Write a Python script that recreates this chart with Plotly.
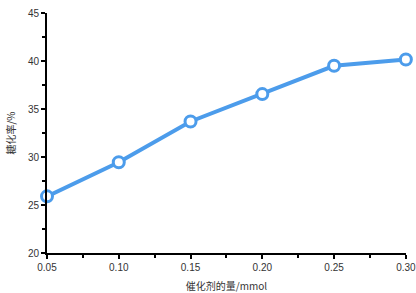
import plotly.graph_objects as go

catalyst = [0.05, 0.10, 0.15, 0.20, 0.25, 0.30]
conversion = [25.9, 29.45, 33.7, 36.55, 39.5, 40.15]
x_ticks = [0.05, 0.10, 0.15, 0.20, 0.25, 0.30]
x_tick_labels = ["0.05", "0.10", "0.15", "0.20", "0.25", "0.30"]
y_ticks = [20, 25, 30, 35, 40, 45]

blue = "#4C9CEB"
font_main = "Liberation Sans, Noto Sans CJK SC, sans-serif"

fig = go.Figure(go.Scatter(
    x=catalyst, y=conversion, mode="lines+markers",
    line=dict(color=blue, width=4),
    marker=dict(size=11, color="white", line=dict(color=blue, width=3)),
    cliponaxis=False,
))

fig.update_layout(
    width=416, height=293,
    margin=dict(l=47, r=10, t=13, b=40),
    paper_bgcolor="white", plot_bgcolor="white",
    showlegend=False,
    font=dict(family=font_main, size=10, color="#333333"),
)
fig.update_xaxes(
    range=[0.05, 0.3001], tickvals=x_ticks, ticktext=x_tick_labels,
    automargin=False, ticklabeloverflow="allow",
    showgrid=False, zeroline=False,
    showline=True, linecolor="black", linewidth=2,
    ticks="outside", ticklen=4, tickwidth=1.5, tickcolor="black",
    minor=dict(dtick=0.025, tick0=0.05, ticks="outside", ticklen=3, tickwidth=1.5, tickcolor="black", showgrid=False),
    title=dict(text="催化剂的量/mmol", font=dict(family="Noto Sans CJK SC, sans-serif", size=10, color="#333333"), standoff=14),
    tickfont=dict(size=10, color="#333333"),
)
fig.update_yaxes(
    range=[20, 45], tickvals=y_ticks,
    automargin=False,
    showgrid=False, zeroline=False,
    showline=True, linecolor="black", linewidth=2,
    ticks="outside", ticklen=4, tickwidth=1.5, tickcolor="black",
    minor=dict(dtick=2.5, tick0=20, ticks="outside", ticklen=3, tickwidth=1.5, tickcolor="black", showgrid=False),
    title=dict(text="糖化率/%", font=dict(family="Noto Sans CJK SC, sans-serif", size=10, color="#333333"), standoff=10),
    tickfont=dict(size=10, color="#333333"),
)

fig.write_html("out.html")
